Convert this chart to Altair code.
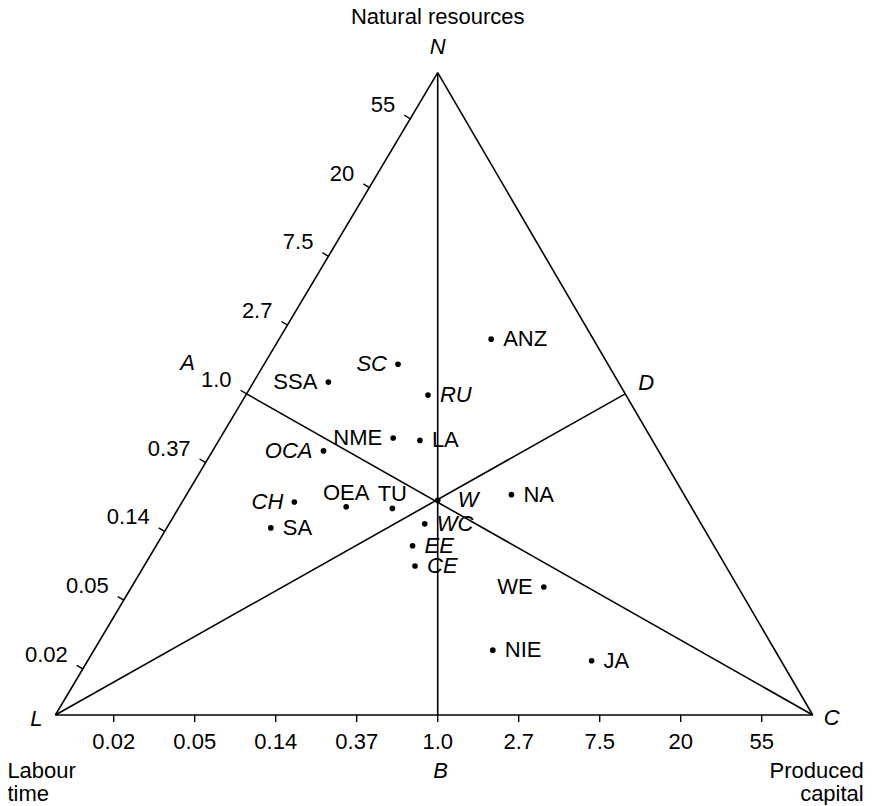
import math
import altair as alt
import pandas as pd

# ---------------- data ----------------
# coordinates in units of one e-fold of the bottom log-ratio scale,
# origin at B (ratio 1.0 on the base line), y measured upwards
VERTEX_NAMES = ["L", "C", "N"]
VERTEX_X = [-4.72, 4.63, 0.0]
VERTEX_Y = [0.0, 0.0, 7.93]

TICK_EXP = [-4, -3, -2, -1, 0, 1, 2, 3, 4]
TICK_LABELS = ["0.02", "0.05", "0.14", "0.37", "1.0", "2.7", "7.5", "20", "55"]
LEFT_STEP = 0.988   # e-fold spacing along the L-N edge (bottom edge = 1.0)

REGIONS = ["ANZ", "SC", "SSA", "RU", "NME", "LA", "OCA", "CH", "OEA", "TU",
           "SA", "NA", "WC", "EE", "CE", "WE", "NIE", "JA", "W"]
REGION_X = [0.66, -0.49, -1.35, -0.12, -0.55, -0.22, -1.41, -1.77, -1.13, -0.56,
            -2.06, 0.91, -0.16, -0.31, -0.28, 1.31, 0.68, 1.90, 0.0]
REGION_Y = [4.64, 4.33, 4.11, 3.95, 3.42, 3.39, 3.26, 2.63, 2.57, 2.55,
            2.31, 2.72, 2.36, 2.09, 1.84, 1.58, 0.80, 0.67, 2.65]

LABEL_LEFT = ["SC", "SSA", "NME", "OCA", "CH", "WE"]
LABEL_ABOVE = ["OEA", "TU"]
LABEL_FAR_RIGHT = ["W"]
ITALIC = ["SC", "RU", "OCA", "CH", "WC", "EE", "CE", "W"]

# ---------------- layout ----------------
WIDTH, HEIGHT = 857, 797
PX = 81.0                      # pixels per unit
OX, OY = 429.7, 707.0          # position of B inside the view
FONT = "Liberation Sans"
FS = 22

XS = alt.Scale(domain=[-OX / PX, (WIDTH - OX) / PX], nice=False, zero=False)
YS = alt.Scale(domain=[(OY - HEIGHT) / PX, OY / PX], nice=False, zero=False)


def xy():
    return dict(x=alt.X("x:Q", scale=XS, axis=None),
                y=alt.Y("y:Q", scale=YS, axis=None))


V = {n: (x, y) for n, x, y in zip(VERTEX_NAMES, VERTEX_X, VERTEX_Y)}


def mid(a, b):
    return ((a[0] + b[0]) / 2, (a[1] + b[1]) / 2)


V["A"] = mid(V["L"], V["N"])
V["D"] = mid(V["N"], V["C"])
V["B"] = (0.0, 0.0)

segs = [("L", "C"), ("C", "N"), ("N", "L"), ("L", "D"), ("C", "A"), ("N", "B")]
seg_df = pd.DataFrame([dict(x=V[a][0], y=V[a][1], x2=V[b][0], y2=V[b][1]) for a, b in segs])

# ticks on the left edge (L-N) and on the base (L-C)
ex, ey = V["N"][0] - V["L"][0], V["N"][1] - V["L"][1]
el = math.hypot(ex, ey)
ux, uy = ex / el, ey / el
nx, ny = -uy, ux
TL = 7.0 / PX
left_rows, bot_rows = [], []
for k, lab in zip(TICK_EXP, TICK_LABELS):
    px_ = V["A"][0] + k * LEFT_STEP * ux
    py_ = V["A"][1] + k * LEFT_STEP * uy
    left_rows.append(dict(x=px_, y=py_, x2=px_ + nx * TL, y2=py_ + ny * TL, label=lab))
    bot_rows.append(dict(x=float(k), y=0.0, x2=float(k), y2=-TL, label=lab))
left_df = pd.DataFrame(left_rows)
bot_df = pd.DataFrame(bot_rows)

pts = pd.DataFrame(dict(name=REGIONS, x=REGION_X, y=REGION_Y))

layers = []
layers.append(alt.Chart(seg_df).mark_rule(color="black", strokeWidth=1.6).encode(
    **xy(), x2="x2:Q", y2="y2:Q"))
for df in (left_df, bot_df):
    layers.append(alt.Chart(df).mark_rule(color="black", strokeWidth=1.4).encode(
        **xy(), x2="x2:Q", y2="y2:Q"))
layers.append(alt.Chart(left_df).mark_text(
    font=FONT, fontSize=FS, align="right", baseline="middle", dx=-15, dy=-14, color="black"
).encode(**xy(), text="label:N"))
layers.append(alt.Chart(bot_df).mark_text(
    font=FONT, fontSize=FS, align="center", baseline="middle", dy=27, color="black"
).encode(**xy(), text="label:N"))

layers.append(alt.Chart(pts).mark_circle(size=32, color="black", opacity=1).encode(**xy()))


def side(n):
    if n in LABEL_LEFT:
        return "left"
    if n in LABEL_ABOVE:
        return "above"
    if n in LABEL_FAR_RIGHT:
        return "far"
    return "right"


pts["side"] = [side(n) for n in REGIONS]
pts["it"] = [n in ITALIC for n in REGIONS]
SIDE_STYLE = {
    "right": dict(align="left", dx=12, dy=0),
    "left": dict(align="right", dx=-11, dy=0),
    "above": dict(align="center", dx=0, dy=-14),
    "far": dict(align="left", dx=20, dy=0),
}
for s, st in SIDE_STYLE.items():
    for it in (False, True):
        sub = pts[(pts["side"] == s) & (pts["it"] == it)]
        if len(sub) == 0:
            continue
        layers.append(alt.Chart(sub).mark_text(
            font=FONT, fontSize=FS, fontStyle="italic" if it else "normal",
            baseline="middle", color="black", **st
        ).encode(**xy(), text="name:N"))

# vertex and corner annotations
ANNOT = [
    ("N", "N", 0, -26, "center", True),
    ("N", "Natural resources", 0, -56, "center", False),
    ("A", "A", -59, -31, "center", True),
    ("D", "D", 21, -11, "center", True),
    ("L", "L", -19, 4, "center", True),
    ("C", "C", 19, 3, "center", True),
    ("B", "B", 3, 56, "center", True),
    ("L", "Labour", -48, 56, "left", False),
    ("L", "time", -48, 79, "left", False),
    ("C", "Produced", 51, 56, "right", False),
    ("C", "capital", 51, 79, "right", False),
]
for v, txt, dx, dy, al, it in ANNOT:
    d = pd.DataFrame(dict(x=[V[v][0]], y=[V[v][1]], t=[txt]))
    layers.append(alt.Chart(d).mark_text(
        font=FONT, fontSize=FS, fontStyle="italic" if it else "normal",
        align=al, baseline="middle", dx=dx, dy=dy, color="black"
    ).encode(**xy(), text="t:N"))

chart = alt.layer(*layers).properties(
    width=WIDTH, height=HEIGHT, padding=0,
    autosize=alt.AutoSizeParams(type="none"), background="white"
).configure_view(stroke=None)

chart.save("out.html", embed_options={"renderer": "svg", "actions": False})
